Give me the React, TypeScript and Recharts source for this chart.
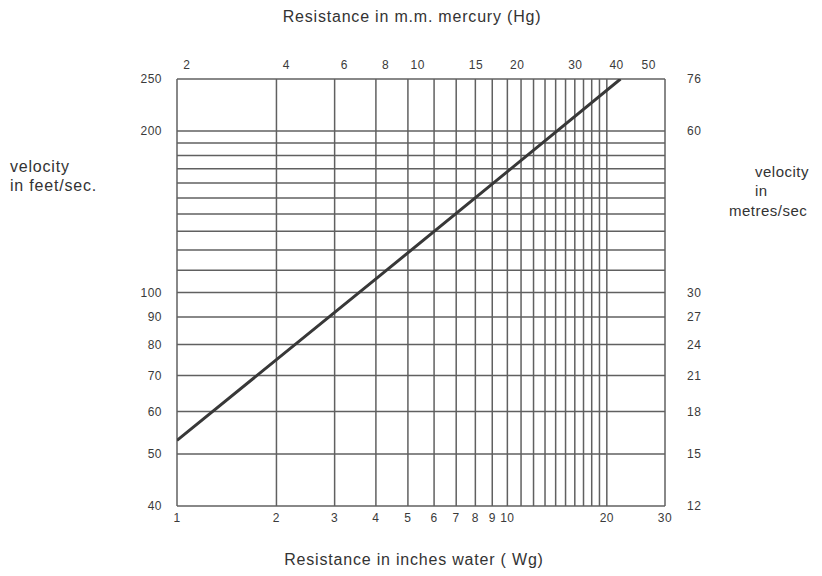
import React from "react";
import { ComposedChart, Line, XAxis, YAxis, CartesianGrid } from "recharts";

const resistanceWg = [1, 4, 10, 22];
const velocityFtS = [53, 106, 168, 250];

const bottomTicks = [1, 2, 3, 4, 5, 6, 7, 8, 9, 10, 11, 12, 13, 14, 15, 16, 17, 18, 19, 20, 30];
const bottomLabeled = [1, 2, 3, 4, 5, 6, 7, 8, 9, 10, 20, 30];
const leftTicks = [40, 50, 60, 70, 80, 90, 100, 110, 120, 130, 140, 150, 160, 170, 180, 190, 200, 250];
const leftLabeled = [40, 50, 60, 70, 80, 90, 100, 200, 250];
const rightTicksFt = [40, 50, 60, 70, 80, 90, 100, 200, 250];
const topTicksMm = [2, 4, 6, 8, 10, 15, 20, 30, 40, 50];

const MM_HG_PER_IN_WG = 1.868;
const M_PER_FT = 0.3048;

const data = resistanceWg.map((x, i) => ({ x, v: velocityFtS[i] }));

const FONT = "'Liberation Sans', Arial, sans-serif";
const tickStyle = { fontSize: 12, fill: "#3a3a3a", fontFamily: FONT, letterSpacing: 0.5 };
const titleStyle: React.CSSProperties = {
  position: "absolute",
  fontSize: 16,
  letterSpacing: 0.8,
  color: "#333",
  fontFamily: FONT,
  whiteSpace: "nowrap",
  lineHeight: "18px",
};
const rightTitleStyle: React.CSSProperties = { ...titleStyle, fontSize: 15, letterSpacing: 0.5 };

export default function App() {
  return (
    <div style={{ position: "relative", width: 814, height: 560, fontFamily: FONT }}>
      <ComposedChart width={814} height={560} data={data} margin={{ top: 0, right: 0, bottom: 0, left: 0 }}>
        <CartesianGrid xAxisId={0} yAxisId={0} stroke="#606060" strokeWidth={1.5} fill="#fff" />
        <XAxis
          xAxisId={0}
          dataKey="x"
          type="number"
          scale="log"
          domain={[1, 30]}
          allowDataOverflow
          ticks={bottomTicks}
          interval={0}
          tickFormatter={(v: number) => (bottomLabeled.includes(v) ? String(v) : "")}
          orientation="bottom"
          height={62}
          axisLine={false}
          tickLine={false}
          tickSize={6}
          tickMargin={1}
          tick={tickStyle}
        />
        <XAxis
          xAxisId="top"
          dataKey="x"
          type="number"
          scale="log"
          domain={[1, 30]}
          allowDataOverflow
          ticks={topTicksMm.map((m) => m / MM_HG_PER_IN_WG)}
          interval={0}
          tickFormatter={(v: number) => String(Math.round(v * MM_HG_PER_IN_WG))}
          orientation="top"
          height={71}
          axisLine={false}
          tickLine={false}
          tickSize={6}
          tickMargin={4}
          tick={tickStyle}
        />
        <YAxis
          yAxisId={0}
          dataKey="v"
          type="number"
          scale="log"
          domain={[40, 250]}
          allowDataOverflow
          ticks={leftTicks}
          interval={0}
          tickFormatter={(v: number) => (leftLabeled.includes(v) ? String(v) : "")}
          orientation="left"
          width={169}
          axisLine={false}
          tickLine={false}
          tickSize={6}
          tickMargin={9}
          tick={tickStyle}
        />
        <YAxis
          yAxisId="right"
          dataKey="v"
          type="number"
          scale="log"
          domain={[40, 250]}
          allowDataOverflow
          ticks={rightTicksFt}
          interval={0}
          tickFormatter={(v: number) => String(Math.floor(v * M_PER_FT))}
          orientation="right"
          width={157}
          axisLine={false}
          tickLine={false}
          tickSize={6}
          tickMargin={16}
          tick={{ ...tickStyle, textAnchor: "start" }}
        />
        <Line
          xAxisId={0}
          yAxisId={0}
          dataKey="v"
          type="linear"
          stroke="#383838"
          strokeWidth={3}
          dot={false}
          activeDot={false}
          isAnimationActive={false}
        />
      </ComposedChart>
      <div style={{ ...titleStyle, left: 404, top: 0, transform: "translateX(-50%)" }}>
        Resistance in m.m. mercury (Hg)
      </div>
      <div style={{ ...titleStyle, left: 406, top: 543, transform: "translateX(-50%)" }}>
        Resistance in inches water ( Wg)
      </div>
      <div style={{ ...titleStyle, left: 2, top: 150 }}>velocity</div>
      <div style={{ ...titleStyle, left: 2, top: 169 }}>in feet/sec.</div>
      <div style={{ ...rightTitleStyle, left: 747, top: 155 }}>velocity</div>
      <div style={{ ...rightTitleStyle, left: 747, top: 174 }}>in</div>
      <div style={{ ...rightTitleStyle, left: 721, top: 194 }}>metres/sec</div>
    </div>
  );
}
